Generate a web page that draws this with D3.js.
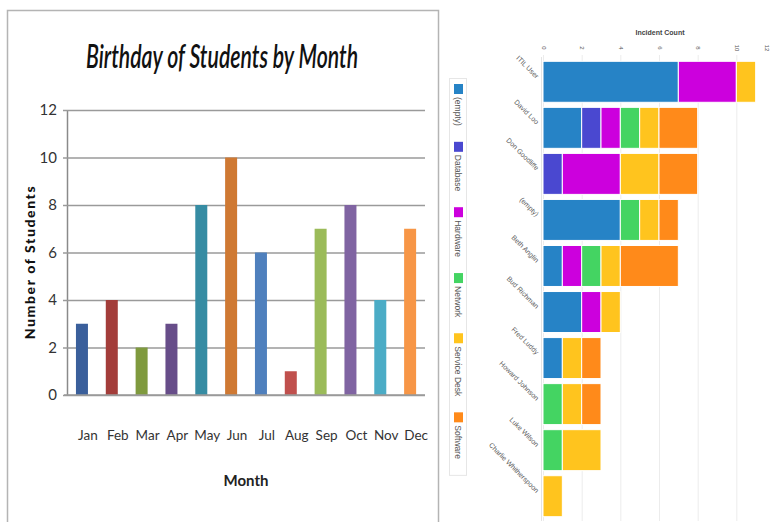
<!DOCTYPE html>
<html>
<head>
<meta charset="utf-8">
<script src="https://cdn.jsdelivr.net/npm/d3@7"></script>
<style>
  body { margin: 0; background: #fff; }
  svg { display: block; }
</style>
</head>
<body>
<svg id="chart" width="773" height="522"></svg>
<script>
// left chart data
var months = ['Jan', 'Feb', 'Mar', 'Apr', 'May', 'Jun', 'Jul', 'Aug', 'Sep', 'Oct', 'Nov', 'Dec'];
var students = [3, 4, 2, 3, 8, 10, 6, 1, 7, 8, 4, 7];
var monthColors = ['#3a5f9b', '#a33d3a', '#7f9a3e', '#674d89', '#368ca3', '#cf7933',
                   '#4f80bd', '#c0504d', '#9bbb59', '#8064a2', '#4bacc6', '#f79646'];
var studentTicks = [0, 2, 4, 6, 8, 10, 12];

// right chart data
var users = ['ITIL User', 'David Loo', 'Don Goodliffe', '(empty)', 'Beth Anglin', 'Bud Richman',
             'Fred Luddy', 'Howard Johnson', 'Luke Wilson', 'Charlie Whitherspoon'];
var categories = ['(empty)', 'Database', 'Hardware', 'Network', 'Service Desk', 'Software'];
var catColors = ['#2683c6', '#4a48d0', '#cc00dd', '#44d462', '#ffc41e', '#ff8a1a'];
var emptyCat    = [7, 2, 0, 4, 1, 2, 1, 0, 0, 0];
var database    = [0, 1, 1, 0, 0, 0, 0, 0, 0, 0];
var hardware    = [3, 1, 3, 0, 1, 1, 0, 0, 0, 0];
var network     = [0, 1, 0, 1, 1, 0, 0, 1, 1, 0];
var serviceDesk = [1, 1, 2, 1, 1, 1, 1, 1, 2, 1];
var software    = [0, 2, 2, 1, 3, 0, 1, 1, 0, 0];
var incidentTicks = [0, 2, 4, 6, 8, 10, 12];

var svg = d3.select('#chart');

// ---------- left: birthdays ----------
var left = svg.append('g');

left.append('rect')
    .attr('x', 7.5).attr('y', 10.5)
    .attr('width', 431).attr('height', 520)
    .attr('fill', '#fff')
    .attr('stroke', '#b4b4b4')
    .attr('stroke-width', 1.5);

left.append('text')
    .attr('x', 222).attr('y', 68)
    .attr('text-anchor', 'middle')
    .attr('font-family', 'Lato, "Open Sans", sans-serif')
    .attr('font-style', 'italic')
    .attr('font-weight', 600)
    .attr('font-size', 33)
    .attr('textLength', 272)
    .attr('lengthAdjust', 'spacingAndGlyphs')
    .attr('fill', '#111')
    .text('Birthday of Students by Month');

var x1 = d3.scaleBand().domain(months).range([67, 425]).paddingInner(0.6).paddingOuter(0.3);
var y1 = d3.scaleLinear().domain([0, 12]).range([395, 110]);

var yAxis1 = left.append('g')
    .attr('transform', 'translate(67,0)')
    .call(d3.axisLeft(y1).tickValues(studentTicks).tickSize(-358).tickSizeOuter(0).tickPadding(10));
yAxis1.select('.domain').attr('stroke', '#8a8a8a').attr('stroke-width', 1.5);
yAxis1.selectAll('.tick line').attr('stroke', '#9a9a9a').attr('stroke-width', 1.6).attr('x1', -4);
yAxis1.selectAll('.tick text')
    .attr('font-family', 'Lato, sans-serif')
    .attr('font-size', 15)
    .attr('fill', '#333');

left.selectAll('.mbar')
    .data(students)
    .enter()
    .append('rect')
    .attr('class', 'mbar')
    .attr('x', function (d, i) { return x1(months[i]); })
    .attr('width', 12)
    .attr('y', function (d) { return y1(d); })
    .attr('height', function (d) { return y1(0) - y1(d); })
    .attr('fill', function (d, i) { return monthColors[i]; });

// redraw zero line over the bars
left.append('line')
    .attr('x1', 64).attr('x2', 425)
    .attr('y1', y1(0)).attr('y2', y1(0))
    .attr('stroke', '#9a9a9a').attr('stroke-width', 1.6);

var xAxis1 = left.append('g')
    .attr('transform', 'translate(0,' + y1(0) + ')')
    .call(d3.axisBottom(x1).tickSize(0).tickPadding(35));
xAxis1.select('.domain').remove();
xAxis1.selectAll('text')
    .attr('dx', 6)
    .attr('font-family', 'Lato, sans-serif')
    .attr('font-size', 13.5)
    .attr('fill', '#333');

left.append('text')
    .attr('x', 246).attr('y', 486)
    .attr('text-anchor', 'middle')
    .attr('font-family', 'Lato, sans-serif')
    .attr('font-weight', 'bold')
    .attr('font-size', 15)
    .attr('fill', '#222')
    .text('Month');

left.append('text')
    .attr('transform', 'translate(35,262) rotate(-90)')
    .attr('text-anchor', 'middle')
    .attr('font-family', 'Lato, sans-serif')
    .attr('font-weight', 900)
    .attr('font-size', 14)
    .attr('letter-spacing', 1.6)
    .attr('fill', '#111')
    .text('Number of Students');

// ---------- right: incidents ----------
var right = svg.append('g');

var table = users.map(function (u, i) {
    return {
        user: u,
        '(empty)': emptyCat[i],
        'Database': database[i],
        'Hardware': hardware[i],
        'Network': network[i],
        'Service Desk': serviceDesk[i],
        'Software': software[i]
    };
});
var series = d3.stack().keys(categories)(table);
var color = d3.scaleOrdinal(categories, catColors);

var x2 = d3.scaleLinear().domain([0, 12]).range([543, 775]);
var y2 = d3.scaleBand().domain(users).range([59, 519]).paddingInner(0.11).paddingOuter(0.05);

var grid = right.append('g')
    .attr('transform', 'translate(0,55)')
    .call(d3.axisTop(x2).tickValues(incidentTicks).tickSize(-466).tickSizeOuter(0).tickPadding(4).tickFormat(d3.format('d')));
grid.select('.domain').remove();
grid.selectAll('.tick line').attr('stroke', '#ececec');
// last label sits on the page edge, pull it in a little
grid.selectAll('.tick text')
    .attr('transform', function (d) { return d === 12 ? 'translate(-9,0) rotate(90)' : 'rotate(90)'; })
    .attr('x', -7).attr('y', 0)
    .attr('dy', '0.32em')
    .attr('text-anchor', 'middle')
    .attr('font-family', 'Arial, sans-serif')
    .attr('font-size', 6)
    .attr('fill', '#555');

right.append('text')
    .attr('x', 660).attr('y', 35)
    .attr('text-anchor', 'middle')
    .attr('font-family', 'Arial, sans-serif')
    .attr('font-weight', 'bold')
    .attr('font-size', 7)
    .attr('fill', '#444')
    .text('Incident Count');

right.append('line')
    .attr('x1', 541.5).attr('x2', 541.5)
    .attr('y1', 57).attr('y2', 521)
    .attr('stroke', '#e4e4e4');

right.selectAll('.layer')
    .data(series)
    .enter()
    .append('g')
    .attr('class', 'layer')
    .attr('fill', function (d) { return color(d.key); })
    .selectAll('rect')
    .data(function (d) { return d; })
    .enter()
    .filter(function (d) { return d[1] > d[0]; })
    .append('rect')
    .attr('x', function (d) { return x2(d[0]); })
    .attr('width', function (d) { return x2(d[1]) - x2(d[0]); })
    .attr('y', function (d) { return y2(d.data.user); })
    .attr('height', y2.bandwidth())
    .attr('stroke', '#fff')
    .attr('stroke-width', 1);

var yAxis2 = right.append('g')
    .attr('transform', 'translate(541,0)')
    .call(d3.axisLeft(y2).tickSize(0).tickPadding(0));
yAxis2.select('.domain').remove();
yAxis2.selectAll('text')
    .attr('transform', 'translate(-5,-3) rotate(45)')
    .attr('x', 0).attr('dy', 0)
    .attr('text-anchor', 'end')
    .attr('font-family', 'Arial, sans-serif')
    .attr('font-size', 7)
    .attr('fill', '#5a5a5a');
// the labels sit at the band centre before rotating
yAxis2.selectAll('.tick').each(function (d) {
    d3.select(this).attr('transform', 'translate(0,' + (y2(d) + y2.bandwidth() / 2) + ')');
});

// legend, laid out vertically with rotated text
var legend = right.append('g');
var legendBox = legend.append('rect')
    .attr('x', 449.5).attr('y', 78.5)
    .attr('width', 17)
    .attr('fill', '#fff')
    .attr('stroke', '#e6e6e6');

var ly = 84;
categories.forEach(function (c) {
    legend.append('rect')
        .attr('x', 454).attr('y', ly)
        .attr('width', 9).attr('height', 10)
        .attr('fill', color(c));
    var t = legend.append('text')
        .attr('transform', 'translate(455,' + (ly + 13) + ') rotate(90)')
        .attr('font-family', 'Arial, sans-serif')
        .attr('font-size', 8.5)
        .attr('fill', '#555')
        .text(c);
    ly += 13 + t.node().getComputedTextLength() + 16;
});
legendBox.attr('height', ly - 78);
</script>
</body>
</html>
